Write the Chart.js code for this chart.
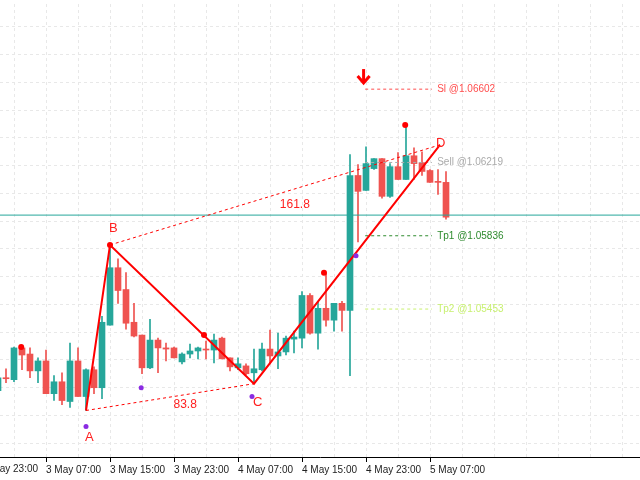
<!DOCTYPE html>
<html>
<head>
<meta charset="utf-8">
<script src="https://cdn.jsdelivr.net/npm/chart.js@4.4.1/dist/chart.umd.min.js"></script>
<style>
  body { margin: 0; background: #fff; overflow: hidden; }
  canvas { display: block; margin-left: -4px; }
</style>
</head>
<body>
<canvas id="chart" width="648" height="480"></canvas>
<script>
// hourly candles, index 0 = 3 May 02:00
const candleIdx = [];
for (let i = -1; i <= 55; i++) candleIdx.push(i);
const opens = [1.05027,1.05094,1.05084,1.05250,1.05218,1.05130,1.05182,1.05011,1.05073,1.04970,1.05182,1.04996,1.05136,1.05042,1.05369,1.05669,1.05555,1.05384,1.05317,1.05146,1.05291,1.05250,1.05250,1.05177,1.05218,1.05234,1.05244,1.05239,1.05301,1.05198,1.05146,1.05156,1.05120,1.05136,1.05244,1.05208,1.05229,1.05296,1.05301,1.05524,1.05327,1.05457,1.05395,1.05483,1.05446,1.06151,1.06073,1.06187,1.06239,1.06042,1.06197,1.06130,1.06254,1.06218,1.06177,1.06120,1.06115];
const highs = [1.05105,1.05141,1.05255,1.05260,1.05250,1.05198,1.05239,1.05105,1.05120,1.05275,1.05250,1.05141,1.05151,1.05415,1.05788,1.05716,1.05643,1.05483,1.05317,1.05400,1.05301,1.05275,1.05255,1.05224,1.05270,1.05255,1.05286,1.05322,1.05307,1.05198,1.05198,1.05167,1.05244,1.05275,1.05343,1.05327,1.05312,1.05338,1.05545,1.05534,1.05493,1.05638,1.05483,1.05493,1.06260,1.06208,1.06301,1.06239,1.06239,1.06213,1.06270,1.06410,1.06296,1.06275,1.06182,1.06182,1.06172];
const lows = [1.05016,1.05068,1.05073,1.05136,1.05094,1.05068,1.05011,1.04975,1.04954,1.04939,1.04996,1.04923,1.05011,1.04985,1.05369,1.05483,1.05348,1.05307,1.05115,1.05141,1.05120,1.05182,1.05198,1.05167,1.05198,1.05193,1.05193,1.05172,1.05193,1.05130,1.05136,1.05110,1.05063,1.05130,1.05167,1.05141,1.05213,1.05224,1.05250,1.05322,1.05244,1.05364,1.05338,1.05338,1.05105,1.05804,1.06073,1.06182,1.06032,1.06037,1.06130,1.06130,1.06130,1.06151,1.06115,1.06052,1.05923];
const closes = [1.05094,1.05089,1.05250,1.05213,1.05130,1.05182,1.05011,1.05073,1.04975,1.05182,1.04996,1.05136,1.05042,1.05384,1.05669,1.05550,1.05379,1.05312,1.05146,1.05291,1.05250,1.05244,1.05198,1.05218,1.05234,1.05250,1.05239,1.05291,1.05193,1.05151,1.05167,1.05115,1.05141,1.05244,1.05208,1.05229,1.05301,1.05307,1.05524,1.05327,1.05457,1.05395,1.05483,1.05446,1.06151,1.06068,1.06213,1.06239,1.06042,1.06197,1.06130,1.06254,1.06213,1.06172,1.06115,1.06115,1.05933];

// tick labels every 8 hours
const tickIdx = [-3, 5, 13, 21, 29, 37, 45, 53];
const tickLabels = ['2 May 23:00','3 May 07:00','3 May 15:00','3 May 23:00','4 May 07:00','4 May 15:00','4 May 23:00','5 May 07:00'];

// XABCD pattern
const patternNames = ['A','B','C','D'];
const patternX = [10, 13, 31, 54.25];
const patternY = [1.04923, 1.05788, 1.05063, 1.06311];
const ratioText = ['83.8', '161.8'];
const ratioX = [22.4, 36.1];
const ratioY = [1.04954, 1.05999];

const redDotX = [1.9, 13, 24.75, 39.75, 49.9];
const redDotY = [1.05255, 1.05788, 1.05317, 1.05643, 1.06415];
const purpleDotX = [10, 16.9, 30.75, 43.75];
const purpleDotY = [1.04840, 1.05042, 1.04996, 1.05731];

const currentPrice = 1.05944;
const levelNames = ['Sl', 'Sell', 'Tp1', 'Tp2'];
const levelPrices = [1.06602, 1.06219, 1.05836, 1.05453];
const levelColors = ['#ff4d4d', '#aaaaaa', '#2e8b2e', '#c8f070'];
const levelStart = 44.9, levelEnd = 53.25, levelLabelX = 53.9;
const arrowX = 44.7, arrowY = 1.06660;

const UP = '#26a69a', DOWN = '#ef5350';
const FONT = '"Liberation Sans", Arial, sans-serif';
const colors = candleIdx.map((_, k) => closes[k] >= opens[k] ? UP : DOWN);

const datasets = [];
// bodies
datasets.push({
  type: 'bar', xAxisID: 'x', data: candleIdx.map((x, k) => ({ x: x, y: [opens[k], closes[k]] })),
  backgroundColor: colors, barThickness: 6, minBarLength: 1, grouped: false, order: 2
});
// wicks
datasets.push({
  type: 'bar', xAxisID: 'x', data: candleIdx.map((x, k) => ({ x: x, y: [lows[k], highs[k]] })),
  backgroundColor: colors, barThickness: 1, grouped: false, order: 3
});
// current price line
datasets.push({
  type: 'line', xAxisID: 'x', data: [{ x: -5, y: currentPrice }, { x: 90, y: currentPrice }],
  borderColor: UP, borderWidth: 1, pointRadius: 0, order: 1
});
// pattern legs
datasets.push({
  type: 'line', xAxisID: 'x', data: patternX.map((x, k) => ({ x: x, y: patternY[k] })),
  borderColor: '#ff0000', borderWidth: 2, pointRadius: 0, order: 0
});
// A-C and B-D dashed
[[0, 2], [1, 3]].forEach(([a, b]) => datasets.push({
  type: 'line', xAxisID: 'x', data: [{ x: patternX[a], y: patternY[a] }, { x: patternX[b], y: patternY[b] }],
  borderColor: '#ff0000', borderWidth: 1, borderDash: [3, 3], pointRadius: 0, order: 0
}));
// trade levels
levelPrices.forEach((p, k) => datasets.push({
  type: 'line', xAxisID: 'x', data: [{ x: levelStart, y: p }, { x: levelEnd, y: p }],
  borderColor: levelColors[k], borderWidth: 1, borderDash: [3, 3], pointRadius: 0, order: 1
}));
// dots
datasets.push({
  type: 'scatter', xAxisID: 'x', data: redDotX.map((x, k) => ({ x: x, y: redDotY[k] })),
  backgroundColor: '#ff0000', borderWidth: 0, pointRadius: 3, order: -1
});
datasets.push({
  type: 'scatter', xAxisID: 'x', data: purpleDotX.map((x, k) => ({ x: x, y: purpleDotY[k] })),
  backgroundColor: '#8a2be2', borderWidth: 0, pointRadius: 2.5, order: -1
});

const textPlugin = {
  id: 'texts',
  afterDatasetsDraw(chart) {
    const c = chart.ctx, xs = chart.scales.x, ys = chart.scales.y;
    c.save();
    c.font = '13px ' + FONT;
    c.fillStyle = '#ff2020';
    c.textAlign = 'left'; c.textBaseline = 'middle';
    const letterPos = [[10.5, 1.04783], [13.5, 1.05876], [31.5, 1.04965], [53.75, 1.06317]];
    patternNames.forEach((n, k) => {
      c.fillText(n, xs.getPixelForValue(letterPos[k][0]) - (k < 3 ? 5 : 0), ys.getPixelForValue(letterPos[k][1]));
    });
    c.font = '12px ' + FONT;
    c.textAlign = 'center';
    ratioText.forEach((t, k) => c.fillText(t, xs.getPixelForValue(ratioX[k]), ys.getPixelForValue(ratioY[k])));
    c.font = '10px ' + FONT;
    c.textAlign = 'left';
    levelNames.forEach((n, k) => {
      c.fillStyle = levelColors[k];
      c.fillText(n + ' @' + levelPrices[k].toFixed(5), xs.getPixelForValue(levelLabelX), ys.getPixelForValue(levelPrices[k]));
    });
    // sell arrow
    const ax = xs.getPixelForValue(arrowX), ay = ys.getPixelForValue(arrowY);
    c.strokeStyle = '#ff0000'; c.lineWidth = 3;
    c.beginPath(); c.moveTo(ax, ay - 9); c.lineTo(ax, ay + 4); c.stroke();
    c.beginPath(); c.moveTo(ax - 6, ay - 2); c.lineTo(ax, ay + 5); c.lineTo(ax + 6, ay - 2); c.stroke();
    // clipped first label
    c.fillStyle = '#222'; c.font = '10px ' + FONT;
    c.textBaseline = 'top';
    c.fillText(tickLabels[0], xs.getPixelForValue(tickIdx[0]) + 1, chart.chartArea.bottom + 7);
    c.restore();
  }
};

new Chart(document.getElementById('chart'), {
  data: { datasets: datasets },
  options: {
    responsive: false, animation: false, devicePixelRatio: 1,
    layout: { padding: 0 },
    plugins: { legend: { display: false }, tooltip: { enabled: false } },
    scales: {
      x: {
        type: 'linear', min: -0.75, max: 79.25, offset: false,
        afterBuildTicks: s => { s.ticks = tickIdx.filter(v => v >= s.min).map(v => ({ value: v })); },
        afterFit: s => { s.paddingLeft = 0; s.paddingRight = 0; s.height = 23; },
        ticks: {
          align: 'start', maxRotation: 0, autoSkip: false, color: '#222', padding: 2,
          font: { size: 10, family: FONT },
          callback: v => tickLabels[tickIdx.indexOf(v)]
        },
        grid: { drawOnChartArea: false, tickLength: 5, color: '#000', offset: false },
        border: { color: '#000', width: 1 }
      },
      xg: {
        type: 'linear', min: -0.75, max: 79.25, display: true, position: 'bottom', offset: false,
        afterBuildTicks: s => { const t = []; for (let v = 1; v < 80; v += 4) t.push({ value: v }); s.ticks = t; },
        afterFit: s => { s.height = 0; s.paddingLeft = 0; s.paddingRight = 0; },
        ticks: { display: false },
        grid: { color: '#e8e8e8', drawTicks: false, offset: false },
        border: { display: false, dash: [3, 3] }
      },
      y: {
        type: 'linear', min: 1.04680, max: 1.07047,
        afterBuildTicks: s => { const t = []; for (let v = 1.06928; v > 1.0468; v -= 0.00145) t.push({ value: v }); s.ticks = t; },
        afterFit: s => { s.width = 0; s.paddingTop = 0; s.paddingBottom = 0; },
        ticks: { display: false },
        grid: { color: '#e8e8e8', drawTicks: false },
        border: { display: false, dash: [3, 3] }
      }
    }
  },
  plugins: [textPlugin]
});
</script>
</body>
</html>
